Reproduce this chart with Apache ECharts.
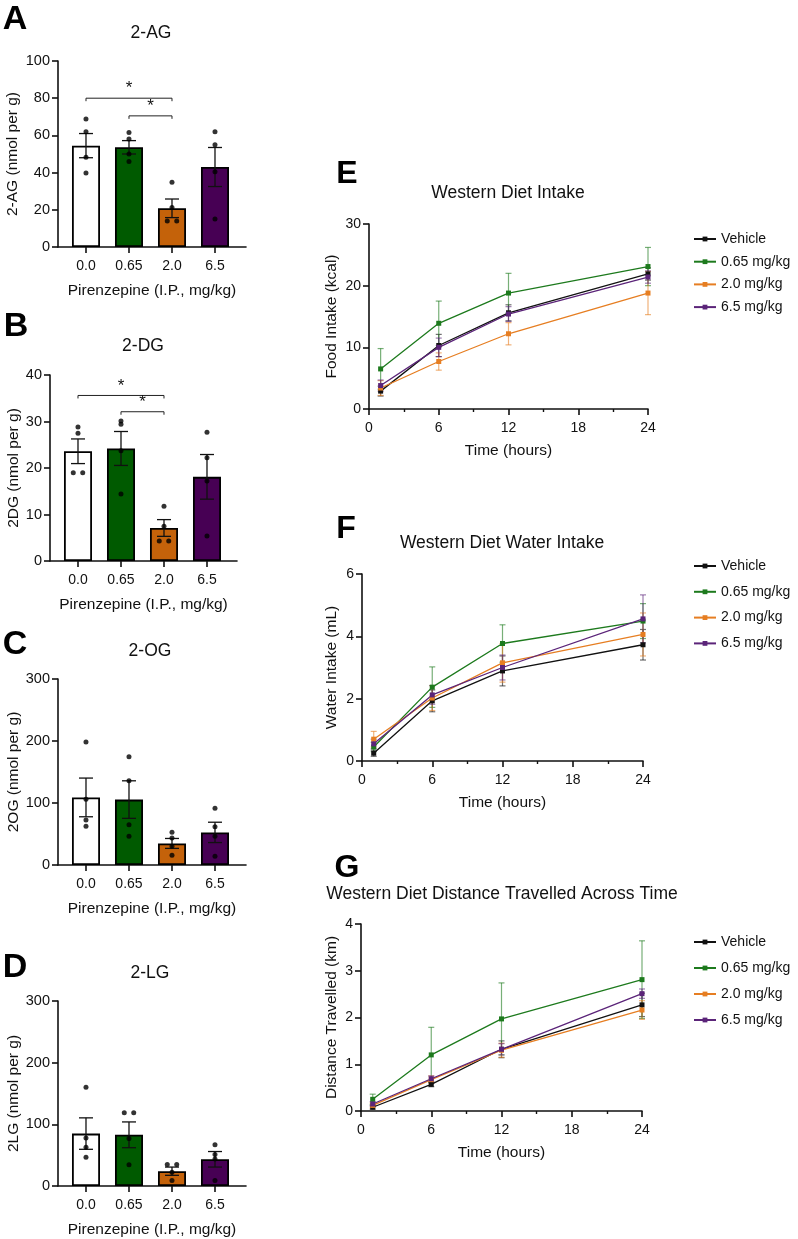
<!DOCTYPE html>
<html>
<head>
<meta charset="utf-8">
<script src="https://cdn.jsdelivr.net/npm/echarts@6/dist/echarts.min.js"></script>
<style>
html, body { margin: 0; padding: 0; background: #fff; }
#chart { width: 798px; height: 1239px; }
</style>
</head>
<body>
<div id="chart"></div>
<script>
// ---- data ----
var doses = ["0.0", "0.65", "2.0", "6.5"];
var barColors = ["#ffffff", "#005a00", "#c4620a", "#470054"];

// A: 2-AG
var agMean = [54.5, 53.6, 20.8, 43.0];
var agSem = [6.5, 3.6, 5.0, 10.5];
var agPts = [[68.8, 62.0, 48.2, 39.8], [61.5, 58.0, 50.0, 46.0], [34.8, 21.3, 14.0, 14.0], [62.0, 55.0, 40.5, 15.0]];
var agSig = [[0, 2, 80], [1, 2, 70.5]];

// B: 2-DG
var dgMean = [23.6, 24.2, 7.1, 18.1];
var dgSem = [2.65, 3.65, 1.8, 4.8];
var dgPts = [[28.8, 27.5, 19.0, 19.0], [30.1, 29.4, 23.7, 14.4], [11.8, 7.5, 4.3, 4.3], [27.7, 22.2, 17.2, 5.4]];
var dgSig = [[0, 2, 35.6], [1, 2, 32.1]];

// C: 2-OG
var ogMean = [109, 105.5, 34.8, 52.6];
var ogSem = [31.2, 30.3, 8.0, 16.4];
var ogPts = [[198.4, 105.9, 72.6, 62.4], [174.7, 136.0, 65.1, 46.2], [52.7, 43.5, 30.1, 15.6], [91.4, 61.8, 46.2, 14.0]];

// D: 2-LG
var lgMean = [85, 83, 24, 43.3];
var lgSem = [25.5, 20.9, 6.7, 12.6];
var lgPts = [[160.2, 77.7, 62.7, 46.6], [118.9, 118.9, 77.1, 34.3], [34.8, 34.8, 22.5, 9.1], [67.0, 50.9, 43.9, 9.1]];

// E-G: time courses
var hours = [1, 6, 12, 24];
var groups = ["Vehicle", "0.65 mg/kg", "2.0 mg/kg", "6.5 mg/kg"];
var lineColors = ["#111111", "#1d7a1d", "#e67e22", "#5b2479"];
var errColors = ["rgba(17,17,17,0.6)", "rgba(29,122,29,0.6)", "rgba(230,126,34,0.6)", "rgba(91,36,121,0.6)"];

var foodMean = [[2.9, 10.3, 15.6, 21.9], [6.5, 13.9, 18.8, 23.1], [3.4, 7.7, 12.2, 18.8], [3.8, 10.0, 15.4, 21.4]];
var foodSem = [[0.8, 1.8, 1.3, 1.0], [3.3, 3.6, 3.2, 3.1], [1.2, 1.4, 1.8, 3.5], [0.9, 1.5, 1.2, 1.0]];

var waterMean = [[0.25, 1.93, 2.89, 3.73], [0.45, 2.37, 3.77, 4.49], [0.7, 2.02, 3.15, 4.06], [0.55, 2.12, 3.0, 4.56]];
var waterSem = [[0.1, 0.35, 0.48, 0.49], [0.15, 0.65, 0.6, 0.56], [0.25, 0.4, 0.62, 0.69], [0.15, 0.3, 0.4, 0.77]];

var distMean = [[0.08, 0.57, 1.32, 2.27], [0.25, 1.2, 1.97, 2.81], [0.12, 0.67, 1.3, 2.16], [0.15, 0.69, 1.32, 2.51]];
var distSem = [[0.04, 0.05, 0.18, 0.25], [0.11, 0.59, 0.77, 0.83], [0.05, 0.08, 0.15, 0.2], [0.05, 0.06, 0.12, 0.1]];

// ---- helpers ----
var FONT = "Liberation Sans, Arial, sans-serif";
var INK = "#111";

function errRender(cap, width) {
  return function (params, api) {
    var x = api.value(0), m = api.value(1), e = api.value(2);
    var hi = api.coord([x, m + e]), lo = api.coord([x, m - e]);
    var st = { stroke: api.visual("color"), lineWidth: width };
    return {
      type: "group",
      children: [
        { type: "line", shape: { x1: hi[0], y1: hi[1], x2: lo[0], y2: lo[1] }, style: st },
        { type: "line", shape: { x1: hi[0] - cap, y1: hi[1], x2: hi[0] + cap, y2: hi[1] }, style: st },
        { type: "line", shape: { x1: lo[0] - cap, y1: lo[1], x2: lo[0] + cap, y2: lo[1] }, style: st }
      ]
    };
  };
}

function sigRender(params, api) {
  var a = api.coord([api.value(0), api.value(2)]);
  var b = api.coord([api.value(1), api.value(2)]);
  return {
    type: "group",
    children: [
      { type: "polyline", shape: { points: [[a[0], a[1] + 3], [a[0], a[1]], [b[0], b[1]], [b[0], b[1] + 3]] },
        style: { stroke: "#222", lineWidth: 1, fill: null } },
      { type: "text", x: (a[0] + b[0]) / 2, y: a[1] - 1,
        style: { text: "*", fontSize: 17, fontFamily: FONT, fill: INK, align: "center", verticalAlign: "bottom" } }
    ]
  };
}

function dots(pts) {
  var out = [];
  pts.forEach(function (g, k) {
    g.forEach(function (v, j) {
      var same = g.filter(function (w) { return w === v; }).length;
      var idx = g.slice(0, j).filter(function (w) { return w === v; }).length;
      var dx = same > 1 ? (idx - (same - 1) / 2) * 0.22 : 0;
      out.push([k + dx, v]);
    });
  });
  return out;
}

var grids = [
  { left: 58, top: 61, width: 188, height: 186 },
  { left: 50, top: 375, width: 187, height: 186 },
  { left: 58, top: 679, width: 188, height: 186 },
  { left: 58, top: 1001, width: 188, height: 186 },
  { left: 369, top: 224, width: 279, height: 185 },
  { left: 362, top: 574, width: 281, height: 187 },
  { left: 361, top: 924, width: 281, height: 187 }
];

var axisLine = { show: true, onZero: false, lineStyle: { color: INK, width: 1.6 } };
var axisTick = { show: true, inside: false, length: 6, lineStyle: { color: INK, width: 1.6 } };
var labelStyle = { color: INK, fontSize: 14, fontFamily: FONT };
var nameStyle = { color: INK, fontSize: 15.5, fontFamily: FONT };

var xAxes = [], yAxes = [], series = [];

function barPanel(i, yName, yMax, yInt, nameGap, mean, sem, pts, sig) {
  var span = grids[i].width / 43;
  xAxes.push({
    type: "value", gridIndex: i, min: -0.651, max: -0.651 + span,
    axisLine: axisLine,
    axisTick: { show: true, length: 6, lineStyle: { color: INK, width: 1.6 }, customValues: [0, 1, 2, 3] },
    axisLabel: Object.assign({ margin: 12, customValues: [0, 1, 2, 3],
      formatter: function (v) { return doses[Math.round(v)]; } }, labelStyle),
    splitLine: { show: false },
    name: "Pirenzepine (I.P., mg/kg)", nameLocation: "middle", nameGap: 36, nameTextStyle: nameStyle
  });
  yAxes.push({
    type: "value", gridIndex: i, min: 0, max: yMax, interval: yInt,
    axisLine: axisLine, axisTick: axisTick,
    axisLabel: Object.assign({ margin: 8 }, labelStyle, { fontSize: 14.5 }),
    splitLine: { show: false },
    name: yName, nameLocation: "middle", nameGap: nameGap, nameTextStyle: nameStyle
  });
  series.push({
    type: "bar", xAxisIndex: i, yAxisIndex: i, barWidth: 28, z: 2,
    itemStyle: { borderColor: "#000", borderWidth: 1.8 },
    data: mean.map(function (m, k) { return { value: [k, m], itemStyle: { color: barColors[k] } }; })
  });
  series.push({
    type: "custom", xAxisIndex: i, yAxisIndex: i, z: 3,
    itemStyle: { color: "#111" },
    renderItem: errRender(7, 1.3),
    encode: { x: 0, y: 1 },
    data: mean.map(function (m, k) { return [k, m, sem[k]]; })
  });
  series.push({
    type: "scatter", xAxisIndex: i, yAxisIndex: i, z: 4,
    symbolSize: 5, itemStyle: { color: "#000" },
    data: dots(pts)
  });
  if (sig) {
    series.push({
      type: "custom", xAxisIndex: i, yAxisIndex: i, z: 4,
      renderItem: sigRender, encode: { x: [0, 1], y: 2 },
      data: sig
    });
  }
}

function linePanel(i, yName, yMax, yInt, nameGap, mean, sem) {
  xAxes.push({
    type: "value", gridIndex: i, min: 0, max: 24, interval: 6,
    axisLine: axisLine, axisTick: axisTick,
    minorTick: { show: true, splitNumber: 2, length: 3, lineStyle: { color: INK, width: 1.4 } },
    axisLabel: Object.assign({ margin: 12 }, labelStyle),
    splitLine: { show: false },
    name: "Time (hours)", nameLocation: "middle", nameGap: 34, nameTextStyle: nameStyle
  });
  yAxes.push({
    type: "value", gridIndex: i, min: 0, max: yMax, interval: yInt,
    axisLine: axisLine, axisTick: axisTick,
    axisLabel: Object.assign({ margin: 8 }, labelStyle),
    splitLine: { show: false },
    name: yName, nameLocation: "middle", nameGap: nameGap, nameTextStyle: nameStyle
  });
  groups.forEach(function (g, k) {
    series.push({
      type: "custom", xAxisIndex: i, yAxisIndex: i, z: 2,
      itemStyle: { color: errColors[k] },
      renderItem: errRender(3, 1.2),
      encode: { x: 0, y: 1 },
      data: hours.map(function (h, j) { return [h, mean[k][j], sem[k][j]]; })
    });
  });
  groups.forEach(function (g, k) {
    series.push({
      type: "line", name: g, xAxisIndex: i, yAxisIndex: i, z: 3,
      symbol: "rect", symbolSize: 5, showSymbol: true,
      color: lineColors[k],
      lineStyle: { width: 1.3, color: lineColors[k] },
      itemStyle: { color: lineColors[k] },
      data: hours.map(function (h, j) { return [h, mean[k][j]]; })
    });
  });
}

barPanel(0, "2-AG (nmol per g)", 100, 20, 37, agMean, agSem, agPts, agSig);
barPanel(1, "2DG (nmol per g)", 40, 10, 27, dgMean, dgSem, dgPts, dgSig);
barPanel(2, "2OG (nmol per g)", 300, 100, 35, ogMean, ogSem, ogPts, null);
barPanel(3, "2LG (nmol per g)", 300, 100, 35, lgMean, lgSem, lgPts, null);
linePanel(4, "Food Intake (kcal)", 30, 10, 29, foodMean, foodSem);
linePanel(5, "Water Intake (mL)", 6, 2, 22, waterMean, waterSem);
linePanel(6, "Distance Travelled (km)", 4, 1, 21, distMean, distSem);

function txt(s, x, y, size, bold) {
  return { type: "text", x: x, y: y, z: 10,
    style: { text: s, fontSize: size, fontWeight: bold ? "bold" : "normal", fontFamily: FONT,
      fill: bold ? "#000" : INK, align: "center", verticalAlign: "middle" } };
}

function legendAt(top, gap) {
  return {
    data: groups, orient: "vertical", left: 688, top: top,
    itemWidth: 22, itemHeight: 6, itemGap: gap,
    textStyle: { fontSize: 14, fontFamily: FONT, color: INK, lineHeight: 16 }
  };
}

var chart = echarts.init(document.getElementById("chart"), null, { renderer: "canvas" });
chart.setOption({
  animation: false,
  backgroundColor: "#fff",
  grid: grids,
  xAxis: xAxes,
  yAxis: yAxes,
  legend: [legendAt(226, 6.7), legendAt(553, 9.8), legendAt(929, 10)],
  graphic: [
    txt("A", 15, 20, 34, true),
    txt("B", 16, 327, 34, true),
    txt("C", 15, 645, 34, true),
    txt("D", 15, 968, 34, true),
    txt("E", 347, 174, 32, true),
    txt("F", 346, 529, 32, true),
    txt("G", 347, 868, 32, true),
    txt("2-AG", 151, 33, 17.5, false),
    txt("2-DG", 143, 346, 17.5, false),
    txt("2-OG", 150, 651, 17.5, false),
    txt("2-LG", 150, 973, 17.5, false),
    txt("Western Diet Intake", 508, 193, 17.5, false),
    txt("Western Diet Water Intake", 502, 543, 17.5, false),
    txt("Western Diet Distance Travelled Across Time", 502, 894, 17.5, false)
  ],
  series: series
});
</script>
</body>
</html>
